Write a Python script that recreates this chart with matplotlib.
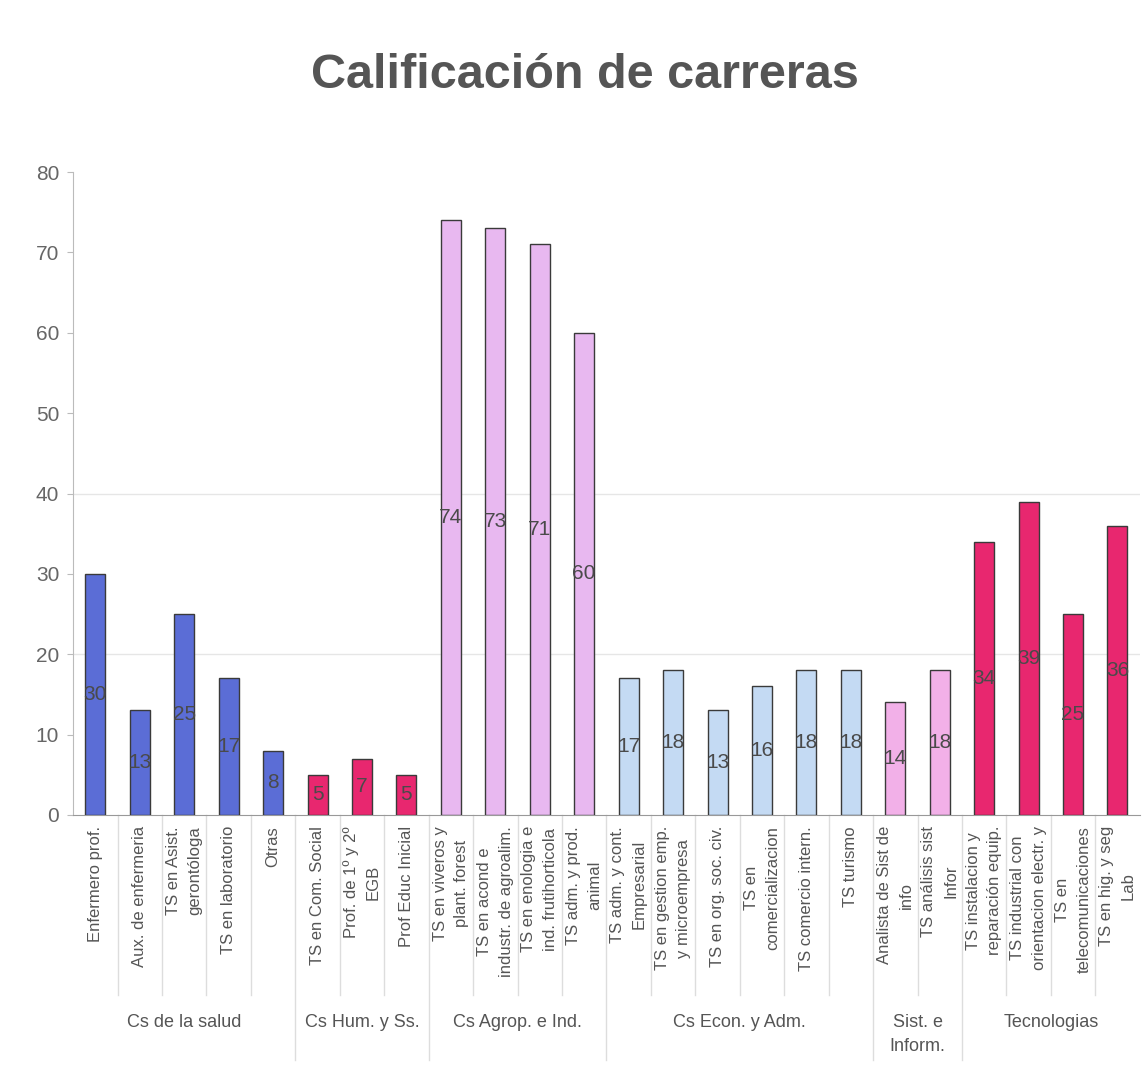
import numpy as np
import matplotlib
matplotlib.use("Agg")
import matplotlib.pyplot as plt

plt.rcParams['font.family'] = ['Liberation Sans', 'DejaVu Sans']

# career names (wrapped as in the original) and scores
carreras = [
    "Enfermero prof.", "Aux. de enfermeria", "TS en Asist.\ngerontóloga",
    "TS en laboratorio", "Otras",
    "TS en Com. Social", "Prof. de 1º y 2º\nEGB", "Prof Educ Inicial",
    "TS en viveros y\nplant. forest", "TS en acond e\nindustr. de agroalim.",
    "TS en enologia e\nind. frutihorticola", "TS adm. y prod.\nanimal",
    "TS adm. y cont.\nEmpresarial", "TS en gestion emp.\ny microempresa",
    "TS en org. soc. civ.", "TS en\ncomercializacion", "TS comercio intern.",
    "TS turismo",
    "Analista de Sist de\ninfo", "TS análisis sist\nInfor",
    "TS instalacion y\nreparación equip.", "TS industrial con\norientacion electr. y",
    "TS en\ntelecomunicaciones", "TS en hig. y seg\nLab",
]
valores = [30, 13, 25, 17, 8,
           5, 7, 5,
           74, 73, 71, 60,
           17, 18, 13, 16, 18, 18,
           14, 18,
           34, 39, 25, 36]

grupos = ["Cs de la salud", "Cs Hum. y Ss.", "Cs Agrop. e Ind.",
          "Cs Econ. y Adm.", "Sist. e\nInform.", "Tecnologias"]
grupo_n = [5, 3, 4, 6, 2, 4]
grupo_col = ["#5B6DD6", "#E8276F", "#E8B8F0", "#C4DAF3", "#F2B0E8", "#E8276F"]

colores = []
for n, c in zip(grupo_n, grupo_col):
    colores += [c] * n

x = np.arange(len(valores))

fig = plt.figure(figsize=(11.42, 10.8), dpi=100)
ax = fig.add_axes([0.064, 0.2454, 0.934, 0.5953])

ax.bar(x, valores, width=0.45, color=colores, edgecolor="#3a3a3a", linewidth=1.0, zorder=3)

for xi, v in zip(x, valores):
    ax.text(xi, v / 2.0, str(v), ha='center', va='center', fontsize=15,
            color="#4a4a4a", zorder=4)

# faint grid lines
for g in [20, 40]:
    ax.axhline(g, color="#e6e6e6", linewidth=1.0, zorder=1)

ax.set_ylim(0, 80)
ax.set_xlim(-0.5, len(valores) - 0.5)
ax.set_yticks(np.arange(0, 81, 10))
ax.tick_params(axis='y', labelsize=15, labelcolor="#666666", color="#bbbbbb",
               length=4, pad=6)
ax.set_xticks(x)
ax.set_xticklabels(carreras, rotation=90, ha='center', va='top',
                   multialignment='center', fontsize=12, color="#555555",
                   linespacing=1.55)
ax.tick_params(axis='x', length=0, pad=8)

for s in ['top', 'right']:
    ax.spines[s].set_visible(False)
ax.spines['left'].set_color("#bbbbbb")
ax.spines['bottom'].set_color("#999999")

# separators below the axis
trans = ax.get_xaxis_transform()
bordes = np.cumsum(grupo_n)[:-1] - 0.5
for b in np.arange(0.5, len(valores) - 1, 1.0):
    largo = -0.381 if b in bordes else -0.28
    ax.plot([b, b], [0, largo], color="#dddddd", linewidth=1.0,
            transform=trans, clip_on=False)

# group labels
inicio = 0
for g, n in zip(grupos, grupo_n):
    centro = inicio + (n - 1) / 2.0
    ax.text(centro, -0.31, g, transform=trans, ha='center', va='top',
            fontsize=13, color="#555555", linespacing=1.5)
    inicio += n

fig.text(0.512, 0.93, "Calificación de carreras", ha='center', va='center',
         fontsize=35, fontweight='bold', color="#555555")

fig.savefig("out.png", dpi=100)
